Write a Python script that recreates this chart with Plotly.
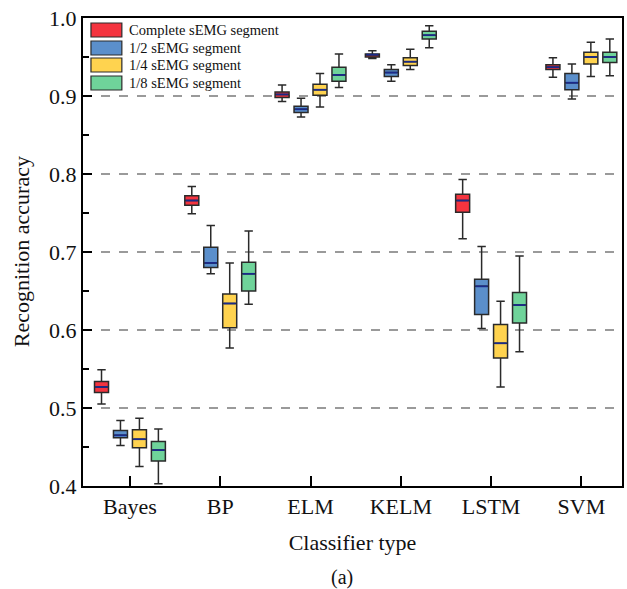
import plotly.graph_objects as go

categories = ["Bayes", "BP", "ELM", "KELM", "LSTM", "SVM"]
series_names = ["Complete sEMG segment", "1/2 sEMG segment", "1/4 sEMG segment", "1/8 sEMG segment"]

# per series: lists over categories
complete_lower = [0.505, 0.749, 0.893, 0.948, 0.717, 0.924]
complete_q1 = [0.520, 0.760, 0.898, 0.950, 0.751, 0.934]
complete_med = [0.527, 0.766, 0.902, 0.953, 0.766, 0.937]
complete_q3 = [0.534, 0.772, 0.905, 0.954, 0.774, 0.940]
complete_upper = [0.549, 0.784, 0.914, 0.958, 0.793, 0.949]

half_lower = [0.452, 0.672, 0.873, 0.919, 0.602, 0.896]
half_q1 = [0.462, 0.680, 0.879, 0.925, 0.620, 0.908]
half_med = [0.465, 0.686, 0.883, 0.930, 0.656, 0.917]
half_q3 = [0.471, 0.706, 0.887, 0.934, 0.665, 0.929]
half_upper = [0.484, 0.734, 0.897, 0.940, 0.707, 0.941]

quarter_lower = [0.425, 0.577, 0.886, 0.934, 0.527, 0.925]
quarter_q1 = [0.449, 0.603, 0.901, 0.939, 0.564, 0.941]
quarter_med = [0.460, 0.634, 0.908, 0.944, 0.583, 0.950]
quarter_q3 = [0.472, 0.646, 0.915, 0.949, 0.607, 0.956]
quarter_upper = [0.487, 0.686, 0.929, 0.960, 0.637, 0.969]

eighth_lower = [0.403, 0.633, 0.911, 0.962, 0.572, 0.926]
eighth_q1 = [0.432, 0.650, 0.919, 0.973, 0.609, 0.943]
eighth_med = [0.446, 0.672, 0.927, 0.978, 0.632, 0.950]
eighth_q3 = [0.457, 0.687, 0.937, 0.983, 0.648, 0.956]
eighth_upper = [0.473, 0.727, 0.954, 0.990, 0.695, 0.973]

series = [
    (complete_lower, complete_q1, complete_med, complete_q3, complete_upper),
    (half_lower, half_q1, half_med, half_q3, half_upper),
    (quarter_lower, quarter_q1, quarter_med, quarter_q3, quarter_upper),
    (eighth_lower, eighth_q1, eighth_med, eighth_q3, eighth_upper),
]

colors = ["#F4343F", "#5B8FCB", "#FFD34F", "#6FD39A"]
offsets = [-0.315, -0.105, 0.105, 0.315]
box_w = 0.155
FONT = "Liberation Serif"

fig = go.Figure()
for k, (lo, q1, med, q3, up) in enumerate(series):
    xs = [i + offsets[k] for i in range(len(categories))]
    fig.add_trace(go.Box(
        x=xs, lowerfence=lo, q1=q1, median=med, q3=q3, upperfence=up,
        width=box_w, fillcolor=colors[k],
        line=dict(color="#2a2a2a", width=1.5),
        whiskerwidth=0.6, name=series_names[k], showlegend=False,
        hoverinfo="skip",
    ))
    mx, my = [], []
    for x, m in zip(xs, med):
        mx += [x - box_w / 2 + 0.01, x + box_w / 2 - 0.01, None]
        my += [m, m, None]
    fig.add_trace(go.Scatter(x=mx, y=my, mode="lines",
                             line=dict(color="#1a2a8a", width=1.8),
                             showlegend=False, hoverinfo="skip"))

# manual legend
L, R, T, B = 83, 624, 18, 486
W, H = R - L, B - T
def px(x):
    return (x - L) / W
def py(y):
    return 1 - (y - T) / H

rows = [30, 48, 65, 83]
for k, name in enumerate(series_names):
    fig.add_shape(type="rect", xref="paper", yref="paper",
                  x0=px(91), x1=px(122), y0=py(rows[k] - 7), y1=py(rows[k] + 7),
                  fillcolor=colors[k], line=dict(color="#2a2a2a", width=1.2))
    fig.add_annotation(x=px(127), y=py(rows[k]), xref="paper", yref="paper",
                       text=name, showarrow=False, xanchor="left", yanchor="middle",
                       font=dict(family=FONT, size=14.5, color="#111"))

fig.add_annotation(x=0.48, y=py(577), xref="paper", yref="paper", text="(a)",
                   showarrow=False, xanchor="center", yanchor="middle",
                   font=dict(family=FONT, size=20, color="#111"))

fig.add_annotation(x=px(21), y=py(252), xref="paper", yref="paper",
                   text="Recognition accuracy", textangle=-90, showarrow=False,
                   xanchor="center", yanchor="middle",
                   font=dict(family=FONT, size=22, color="#111"))

fig.update_layout(
    width=627, height=589,
    margin=dict(l=L, r=627 - R, t=T, b=589 - B),
    paper_bgcolor="white", plot_bgcolor="white",
    boxmode="overlay",
    font=dict(family=FONT, size=22, color="#111"),
)
fig.update_xaxes(
    range=[-0.52, 5.45], tickvals=list(range(len(categories))), ticktext=categories,
    showline=True, mirror=True, linecolor="black", linewidth=2,
    ticks="inside", ticklen=10, tickwidth=2, tickcolor="black",
    showgrid=False, zeroline=False,
    title=dict(text="Classifier type", font=dict(family=FONT, size=22), standoff=16),
    tickfont=dict(family=FONT, size=22),
)
fig.update_yaxes(
    range=[0.4, 1.0], dtick=0.1, tickformat=".1f",
    showline=True, mirror=True, linecolor="black", linewidth=2,
    ticks="inside", ticklen=9, tickwidth=2, tickcolor="black",
    minor=dict(dtick=0.05, ticks="inside", ticklen=6, tickwidth=2, tickcolor="black", showgrid=False),
    showgrid=True, gridcolor="#9a9a9a", gridwidth=1.5, griddash="dash",
    zeroline=False,
    tickfont=dict(family=FONT, size=22),
)

fig.write_html("out.html")
